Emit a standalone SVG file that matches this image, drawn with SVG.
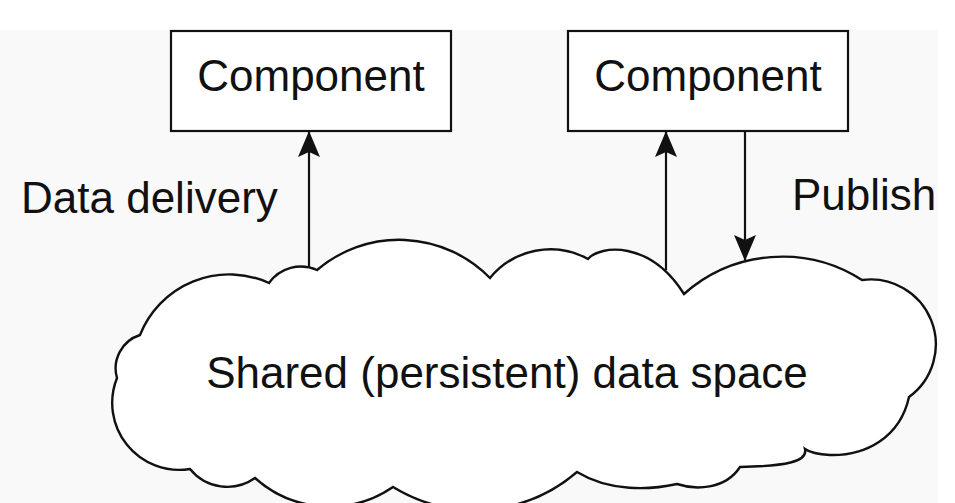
<svg xmlns="http://www.w3.org/2000/svg" width="955" height="503" viewBox="0 0 955 503">
  <style>
    .box { fill: #ffffff; stroke: #111111; stroke-width: 2.2; }
    .label { font-family: "Liberation Sans", Arial, Helvetica, sans-serif; font-size: 44px; fill: #111111; }
    .edge { fill: none; stroke: #111111; stroke-width: 2.2; }
    .cloud { fill: #ffffff; stroke: #111111; stroke-width: 2.4; stroke-linejoin: miter; }
  </style>
  <defs>
    <marker id="arrow" viewBox="0 0 26 22" refX="25" refY="11" markerWidth="26" markerHeight="22" markerUnits="userSpaceOnUse" orient="auto">
      <path d="M0,0 L26,11 L0,22 L5,11 Z" fill="#111111"/>
    </marker>
  </defs>

  <!-- page background -->
  <rect x="0" y="0" width="955" height="503" fill="#ffffff"/>
  <rect x="0" y="30" width="938" height="473" fill="#f9f9f9"/>

  <!-- shared data space -->
  <g id="data-space">
    <path class="cloud" d="M269,283
      A39,39 0 0 1 317,270
      A127,127 0 0 1 490,278
      A78,78 0 0 1 588,259
      C600,245 650,240 684,294
      A148,148 0 0 1 862,280
      A65,65 0 0 1 909,397
      C900,438 865,456 830,455
      Q812,454 805,449
      C808,462 785,466 740,467
      C725,490 695,490 677,484
      C650,490 610,492 577,472
      A157,157 0 0 1 393,487
      A112,112 0 0 1 255,478
      A48,48 0 0 1 190,469
      A67,67 0 0 1 117,378
      A35,35 0 0 1 140,335
      A96,96 0 0 1 269,283 Z"/>
    <text class="label" x="507" y="388" text-anchor="middle">Shared (persistent) data space</text>
  </g>

  <!-- components -->
  <g id="component-left">
    <rect class="box" x="171" y="31" width="280" height="100"/>
    <text class="label" x="311" y="91" text-anchor="middle">Component</text>
  </g>
  <g id="component-right">
    <rect class="box" x="568" y="31" width="280" height="100"/>
    <text class="label" x="708" y="91" text-anchor="middle">Component</text>
  </g>

  <!-- connectors -->
  <g id="connectors">
    <line class="edge" x1="309" y1="268" x2="309" y2="132" marker-end="url(#arrow)"/>
    <line class="edge" x1="666" y1="270" x2="666" y2="132" marker-end="url(#arrow)"/>
    <line class="edge" x1="745" y1="131" x2="745" y2="260" marker-end="url(#arrow)"/>
  </g>

  <!-- connector labels -->
  <g id="labels">
    <text class="label" x="21" y="213">Data delivery</text>
    <text class="label" x="792" y="210">Publish</text>
  </g>
</svg>
